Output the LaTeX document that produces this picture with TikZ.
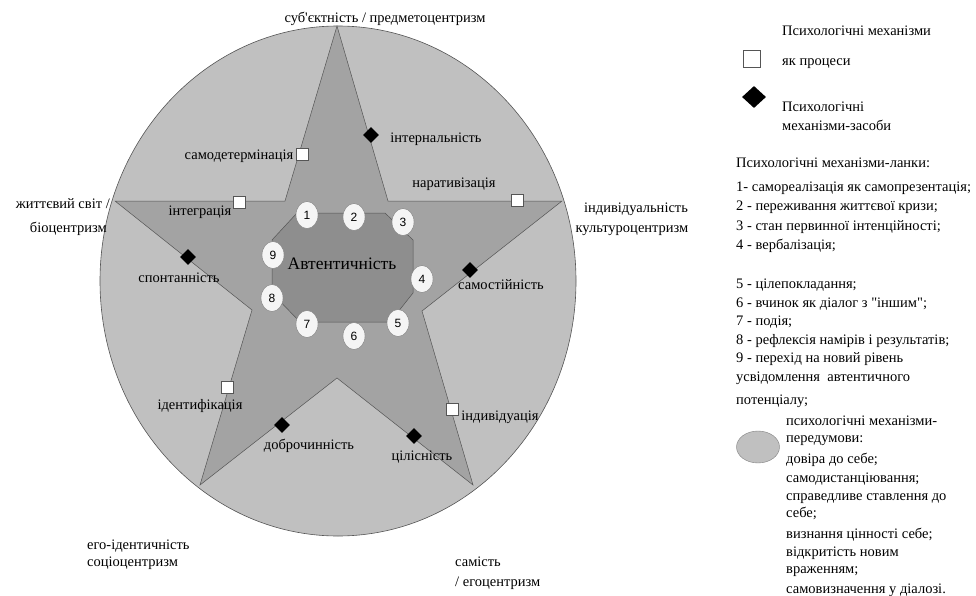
\documentclass[tikz,border=0pt]{standalone}
\usepackage{fontspec}
\setmainfont{Liberation Serif}[Ligatures=TeXOff]
\newfontfamily\numfont{Liberation Sans}
\usetikzlibrary{shapes.geometric}
\definecolor{ringgray}{RGB}{192,192,192}
\definecolor{stargray}{RGB}{163,163,163}
\definecolor{coregray}{RGB}{142,142,142}
\definecolor{edgegray}{RGB}{85,85,85}
\tikzset{
  lbl/.style={font=\fontsize{14.5}{16}\selectfont, inner sep=0pt, text height=10pt, text depth=3.5pt},
  proc/.style={draw=edgegray, fill=white, minimum size=12pt, inner sep=0pt},
  tool/.style={diamond, fill=black, minimum size=16pt, inner sep=0pt},
  link/.style={ellipse, draw=gray, fill=gray!8, minimum width=22pt, minimum height=27pt, inner sep=0pt, font=\numfont\fontsize{12}{13}\selectfont},
}

\begin{document}
\begin{tikzpicture}[x=1pt,y=-1pt]
\useasboundingbox (0,0) rectangle (976,596);
\draw[edgegray, fill=ringgray, line width=0.6pt] (338,281) ellipse [x radius=238pt, y radius=255pt];
\draw[edgegray, fill=stargray, line width=0.5pt] (337,26) -- (388,201) -- (562,201) -- (422,311) -- (473,485) -- (337,378) -- (200,485) -- (252,310) -- (115,201) -- (285,201) -- cycle;
\draw[edgegray, fill=coregray, line width=0.5pt] (297,213) -- (385,213) -- (413,240) -- (413,293) -- (390,322) -- (300,322) -- (272,293) -- (272,240) -- cycle;
\node[font=\fontsize{17.5}{19}\selectfont, inner sep=0pt] (core) at (342,264) {Автентичність};

\node[link] (l1) at (307,215) {1};
\node[link] (l2) at (354,217) {2};
\node[link] (l3) at (403,222) {3};
\node[link] (l4) at (422,279) {4};
\node[link] (l5) at (398,323) {5};
\node[link] (l6) at (354,336) {6};
\node[link] (l7) at (307,324) {7};
\node[link] (l8) at (272,298) {8};
\node[link] (l9) at (273,255) {9};

\node[proc] (p1) at (302,154) {};
\node[proc] (p2) at (517,200) {};
\node[proc] (p3) at (239,202) {};
\node[proc] (p4) at (227,387) {};
\node[proc] (p5) at (452,409) {};
\node[tool] (t1) at (371,135) {};
\node[tool] (t2) at (188,257) {};
\node[tool] (t3) at (470,270) {};
\node[tool] (t4) at (282,425) {};
\node[tool] (t5) at (414,436) {};

\node[lbl] (top) at (385,19) {суб'єктність / предметоцентризм};
\node[lbl, anchor=east] (left1) at (110,205) {життєвий світ /};
\node[lbl, anchor=east] (left2) at (107,229) {біоцентризм};
\node[lbl] (right1) at (636,209) {індивідуальність};
\node[lbl] (right2) at (632,229) {культуроцентризм};
\node[lbl, anchor=west] (bl1) at (87,546) {его-ідентичність};
\node[lbl, anchor=west] (bl2) at (87,563) {соціоцентризм};
\node[lbl, anchor=west] (br1) at (455,563) {самість};
\node[lbl, anchor=west] (br2) at (455,583) {/ егоцентризм};

\node[lbl] (intern) at (436,139) {інтернальність};
\node[lbl] (selfdet) at (239,156) {самодетермінація};
\node[lbl] (narr) at (454,184) {наративізація};
\node[lbl] (integr) at (200,212) {інтеграція};
\node[lbl] (spont) at (179,279) {спонтанність};
\node[lbl] (indep) at (501,286) {самостійність};
\node[lbl] (ident) at (200,406) {ідентифікація};
\node[lbl] (good) at (309,446) {доброчинність};
\node[lbl] (whole) at (422,457) {цілісність};
\node[lbl] (indiv) at (500,417) {індивідуація};

\node[lbl, anchor=west] (k1) at (782,32) {Психологічні механізми};
\node[draw=edgegray, fill=white, minimum size=17pt, inner sep=0pt] (kp) at (752,59) {};
\node[lbl, anchor=west] (k2) at (782,62) {як процеси};
\node[diamond, fill=black, minimum width=24pt, minimum height=22pt, inner sep=0pt] (kt) at (754,97) {};
\node[lbl, anchor=west] (k3) at (782,108) {Психологічні};
\node[lbl, anchor=west] (k4) at (782,127) {механізми-засоби};

\node[lbl, anchor=west] (m0) at (736,164) {Психологічні механізми-ланки:};
\node[lbl, anchor=west] (m1) at (736,188) {1- самореалізація як самопрезентація;};
\node[lbl, anchor=west] (m2) at (736,207) {2 - переживання життєвої кризи;};
\node[lbl, anchor=west] (m3) at (736,227) {3 - стан первинної інтенційності;};
\node[lbl, anchor=west] (m4) at (736,246) {4 - вербалізація;};
\node[lbl, anchor=west] (m5) at (736,285) {5 - цілепокладання;};
\node[lbl, anchor=west] (m6) at (736,304) {6 - вчинок як діалог з "іншим";};
\node[lbl, anchor=west] (m7) at (736,322) {7 - подія;};
\node[lbl, anchor=west] (m8) at (736,341) {8 - рефлексія намірів і результатів;};
\node[lbl, anchor=west] (m9) at (736,359) {9 - перехід на новий рівень};
\node[lbl, anchor=west] (m10) at (736,378) {усвідомлення \ автентичного};
\node[lbl, anchor=west] (m11) at (736,401) {потенціалу;};

\node[ellipse, draw=gray, fill=ringgray, minimum width=43pt, minimum height=32pt, inner sep=0pt] (ke) at (758,447) {};
\node[lbl, anchor=west] (n1) at (786,422) {психологічні механізми-};
\node[lbl, anchor=west] (n2) at (786,439) {передумови:};
\node[lbl, anchor=west] (n3) at (786,460) {довіра до себе;};
\node[lbl, anchor=west] (n4) at (786,479) {самодистанціювання;};
\node[lbl, anchor=west] (n5) at (786,497) {справедливе ставлення до};
\node[lbl, anchor=west] (n6) at (786,514) {себе;};
\node[lbl, anchor=west] (n7) at (786,535) {визнання цінності себе;};
\node[lbl, anchor=west] (n8) at (786,553) {відкритість новим};
\node[lbl, anchor=west] (n9) at (786,570) {враженням;};
\node[lbl, anchor=west] (n10) at (786,590) {самовизначення у діалозі.};
\end{tikzpicture}
\end{document}
